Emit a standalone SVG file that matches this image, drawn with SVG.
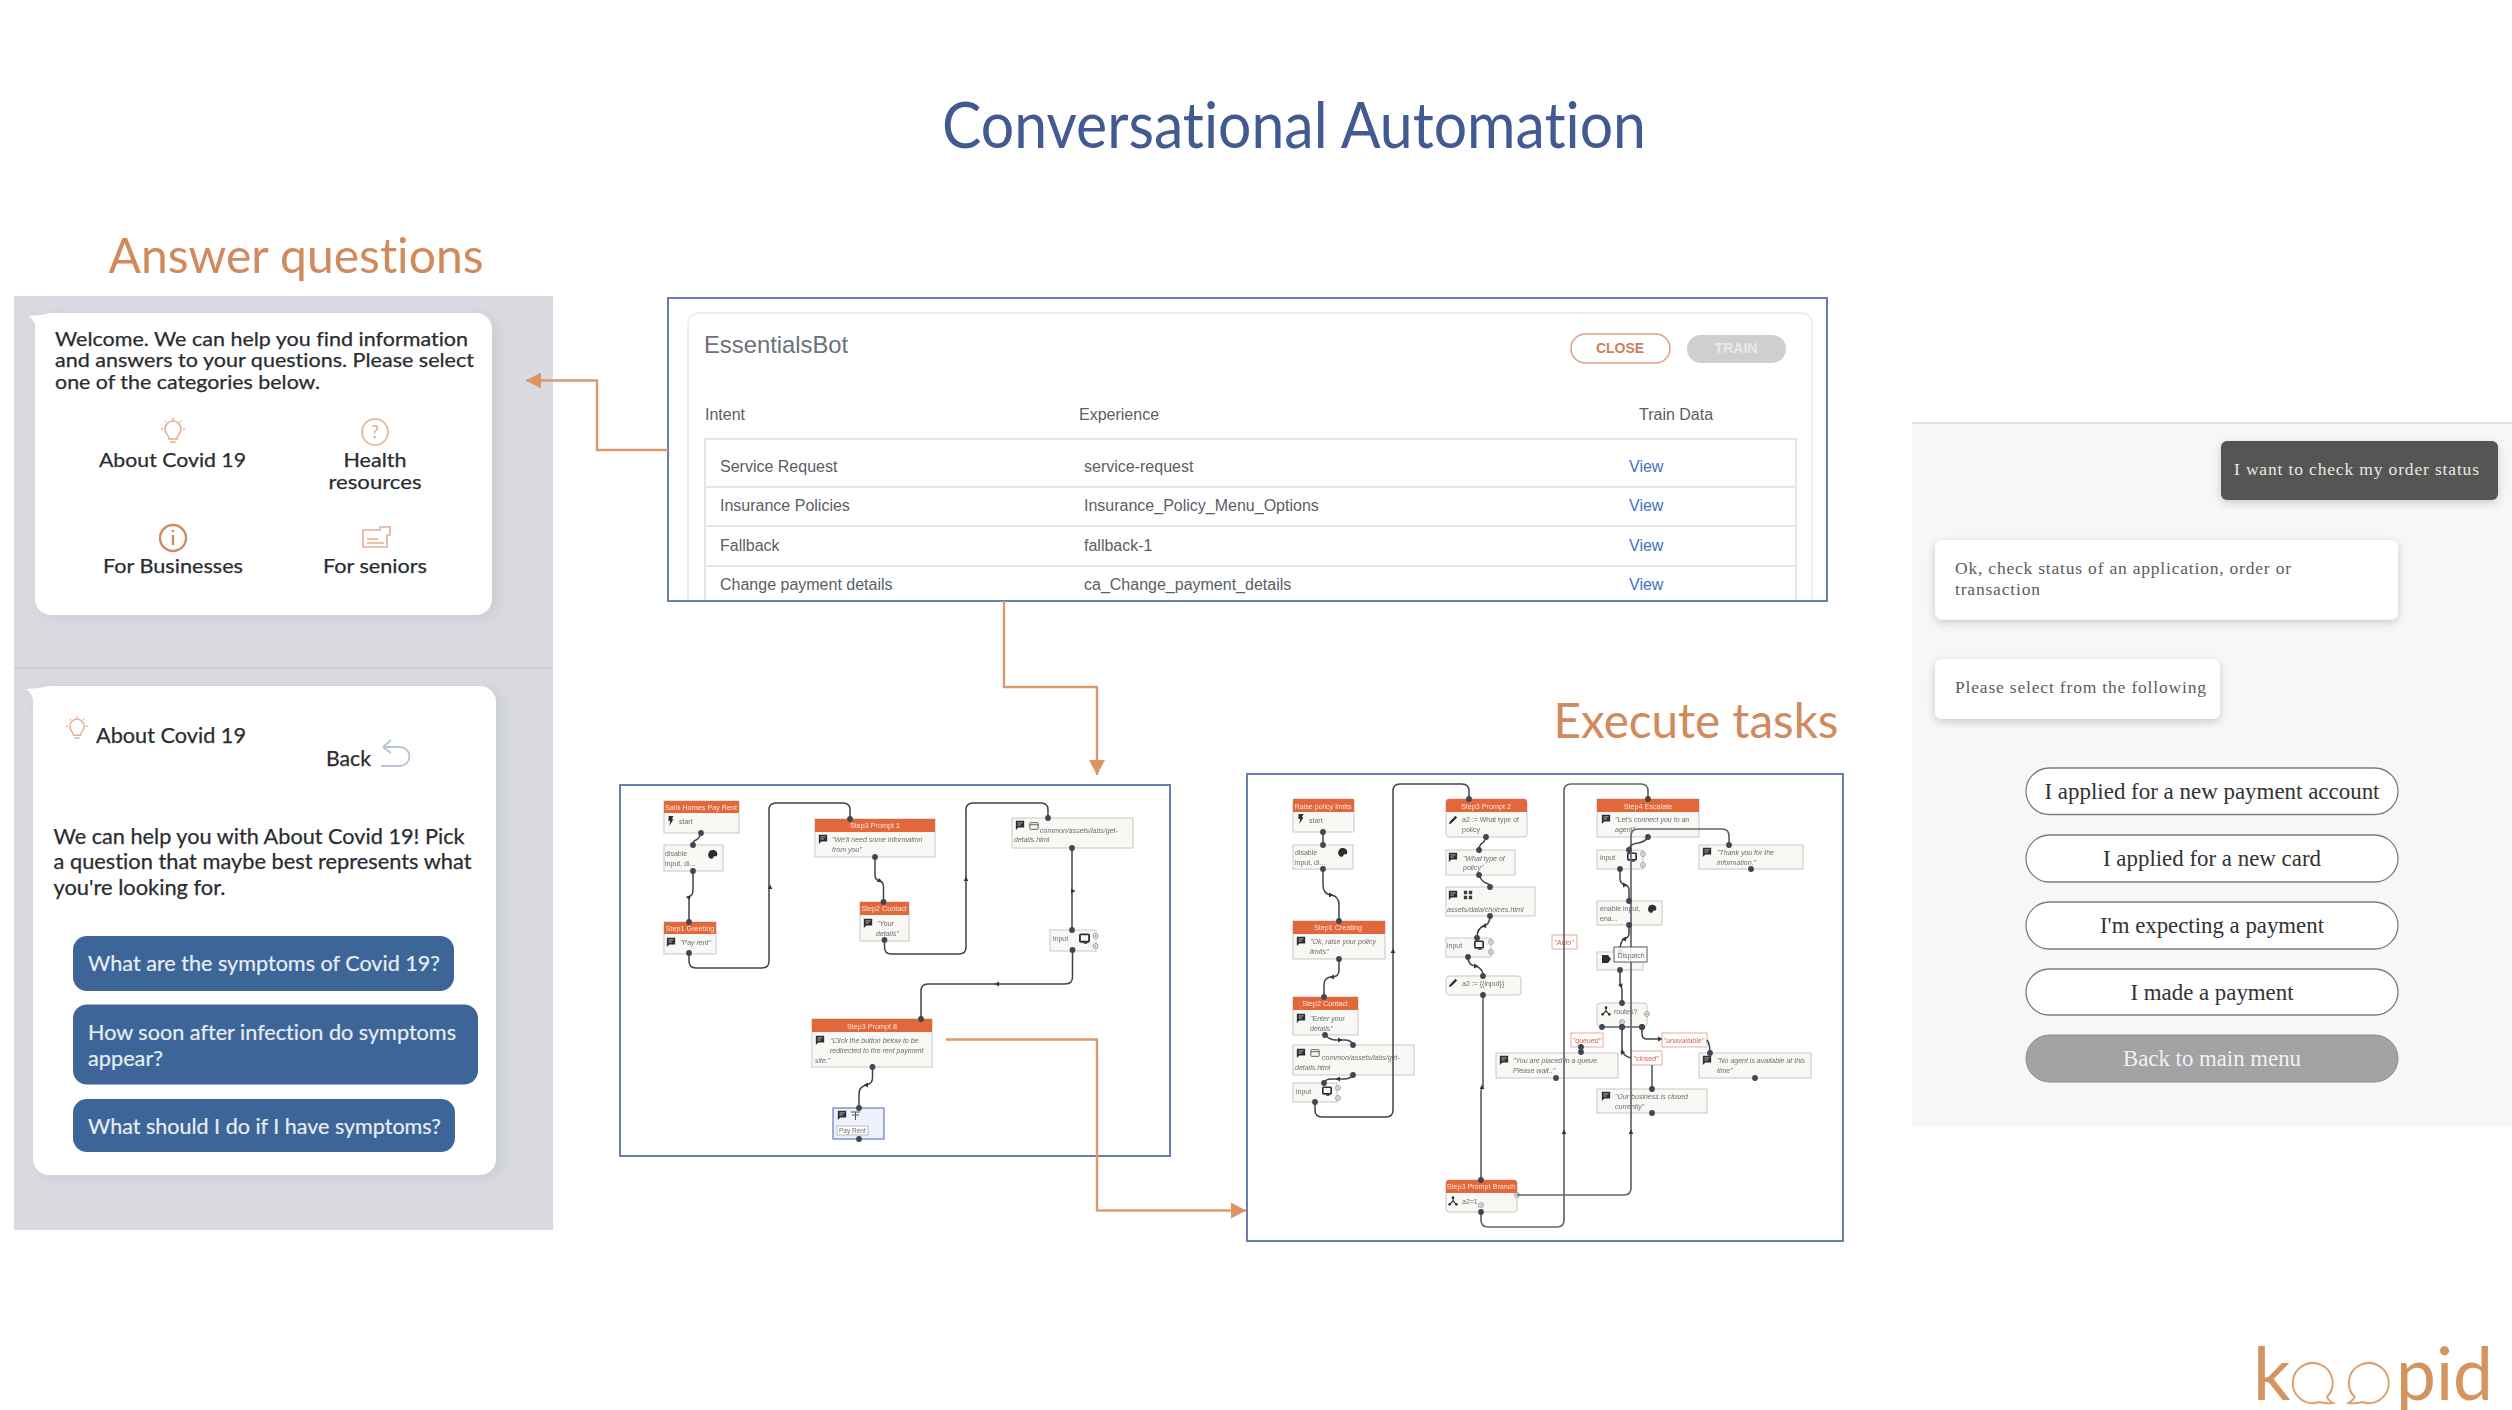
<svg xmlns="http://www.w3.org/2000/svg" width="2512" height="1410" viewBox="0 0 2512 1410">
<style>
text{font-family:"Liberation Sans",Arial,sans-serif}
.lato,.lato text{font-family:Lato,"Noto Sans",sans-serif;font-variant-ligatures:none}
.serif,.serif text{font-family:"Liberation Serif","Times New Roman",serif}
.head{fill:#2a2c30;font-size:20px;stroke:#2a2c30;stroke-width:.25}
.mid{text-anchor:middle}
.btn{fill:#3d6597}
.btnt{fill:#e6edf5;font-size:21px;stroke:#e6edf5;stroke-width:.2}
.card{fill:#fff}
.ico{fill:none;stroke:#e6ae8c;stroke-width:1.6}
.frame{fill:#fff;stroke:#6b7db0;stroke-width:2}
.tb{fill:#5b5e64;font-size:16px}
.rowl{stroke:#e3e6ec;stroke-width:2;fill:none}
.view{fill:#3f70c4;font-size:16px}
.nb{fill:#faf8f5;stroke:#c9c7c3;stroke-width:1}
.nh{fill:#e2673b}
.nht{fill:#fbe6dc;font-size:7.2px;text-anchor:middle}
.nt{fill:#6d6d6d;font-size:7px;font-style:italic}
.np{fill:#6d6d6d;font-size:7px}
.lab{fill:#fff;stroke:#e9a99b;stroke-width:1}
.labt{fill:#d9604a;font-size:7px;text-anchor:middle;font-style:italic}
.fc{fill:none;stroke:#3f444d;stroke-width:1.5;marker-start:url(#dot);marker-end:url(#dot)}
.fl{fill:none;stroke:#63676e;stroke-width:1.7;marker-start:url(#dot);marker-end:url(#dot)}
.dot{fill:#3f4653}
.ma{fill:#33373e}
.or{fill:none;stroke:#dc9a6e;stroke-width:2.4}
.bub{fill:#fff}
.pill{fill:#fff;stroke:#7d7d80;stroke-width:1.3}
.pillt{fill:#333;font-size:22.5px;text-anchor:middle}
.bt{fill:#5c5c5e;font-size:17.5px}
.kd{fill:#d3945f;font-family:Lato,sans-serif;font-size:74px}
.ttl{font-family:Lato,"Noto Sans",sans-serif;font-variant-ligatures:none}
</style>
<defs>
<filter id="soft" x="-2%" y="-2%" width="104%" height="104%"><feGaussianBlur stdDeviation="0.55"/></filter>
<filter id="soft2" x="-2%" y="-5%" width="104%" height="110%"><feGaussianBlur stdDeviation="0.35"/></filter>
<filter id="shadow" x="-10%" y="-10%" width="120%" height="125%"><feDropShadow dx="0" dy="3" stdDeviation="4" flood-color="#000" flood-opacity=".18"/></filter>
<filter id="shadowL" x="-10%" y="-10%" width="125%" height="120%"><feDropShadow dx="6" dy="3" stdDeviation="8" flood-color="#8a90a0" flood-opacity=".22"/></filter>
<marker id="arrO" markerUnits="userSpaceOnUse" markerWidth="16" markerHeight="16" refX="15" refY="8" orient="auto"><path d="M0 0L15 8L0 16z" fill="#dc9460"/></marker>
<marker id="dot" markerUnits="userSpaceOnUse" markerWidth="8" markerHeight="8" refX="4" refY="4"><circle cx="4" cy="4" r="2.9" fill="#3f4653"/></marker>
<symbol id="chat" viewBox="-6 -6 12 12" overflow="visible"><path d="M-5-5H5V3H-2L-5 6z" fill="#2e2f33"/><path d="M-3-2.500H3M-3 0H1" stroke="#ddd" stroke-width=".9" fill="none"/></symbol>
<symbol id="win" viewBox="-6 -6 12 12" overflow="visible"><rect x="-5" y="-4" width="10" height="8" rx="1" fill="none" stroke="#444" stroke-width="1"/><path d="M-5-1.500H5" stroke="#444" stroke-width="1"/></symbol>
<symbol id="pal" viewBox="-6 -6 12 12" overflow="visible"><path d="M0-5C4-5 6-2 5 1C4 3 2 1 1 3C0 5-1 5-3 4C-6 2-5-5 0-5z" fill="#2e2f33"/></symbol>
<symbol id="bolt" viewBox="-6 -6 12 12" overflow="visible"><path d="M-3-6H3L1-2H3L-2 6L-1 0H-3z" fill="#2e2f33"/></symbol>
<symbol id="pen" viewBox="-6 -6 12 12" overflow="visible"><path d="M-5 5L-4 2L3-5L5-3L-2 4z" fill="#2e2f33"/></symbol>
<symbol id="mon" viewBox="-6 -6 12 12" overflow="visible"><rect x="-5" y="-4.500" width="10" height="8" rx="1" fill="none" stroke="#2e2f33" stroke-width="2"/><path d="M-1 5H3" stroke="#2e2f33" stroke-width="1.400"/></symbol>
<symbol id="grd" viewBox="-6 -6 12 12" overflow="visible"><path d="M-5-5H-1V-1H-5zM1-5H5V-1H1zM-5 1H-1V5H-5zM1 1H5V5H1z" fill="#3a3b3f"/></symbol>
<symbol id="brn" viewBox="-6 -6 12 12" overflow="visible"><path d="M0-4V0L-4 4M0 0L4 4" stroke="#2e2f33" stroke-width="1.300" fill="none"/><circle cx="0" cy="-4" r="1.600" fill="#2e2f33"/><circle cx="-4" cy="4" r="1.600" fill="#2e2f33"/><circle cx="4" cy="4" r="1.600" fill="#2e2f33"/></symbol>
<symbol id="cir" viewBox="-6 -6 12 12" overflow="visible"><circle r="3.200" fill="#fff" stroke="#5d6066" stroke-width=".9"/><circle r="1" fill="#5d6066"/></symbol>
<path id="ma" d="M2.500 0L-2 -2.400V2.400z"/>
<path id="bulb" d="M-4 7C-4 3-8 2-8-3A8 8 0 0 1 8-3C8 2 4 3 4 7zM-3 10H3M-12-3H-10M10-3H12M-8-11L-7-10M8-11L7-10M0-14V-12"/>
</defs>
<rect width="2512" height="1410" fill="#fff"/>

<g id="title"><text class="ttl" x="1294" y="148" text-anchor="middle" font-size="64" fill="#425a92" textLength="704" lengthAdjust="spacingAndGlyphs">Conversational Automation</text></g>
<text class="ttl" id="answer-title" x="296" y="273" text-anchor="middle" font-size="48" fill="#d08a5c" textLength="375" lengthAdjust="spacingAndGlyphs">Answer questions</text>
<text class="ttl" id="execute-title" x="1696" y="738" text-anchor="middle" font-size="48" fill="#d08a5c" textLength="285" lengthAdjust="spacingAndGlyphs">Execute tasks</text>

<g id="answer-panel" class="lato">
<rect x="14" y="296" width="539" height="934" fill="#dadbe1"/>
<path d="M14 668H553" stroke="#c9cad0" stroke-width="1.500"/>
<g id="card-welcome">
<path class="card" filter="url(#shadowL)" d="M51 313H476a16 16 0 0 1 16 16V599a16 16 0 0 1-16 16H51a16 16 0 0 1-16-16V325Q33 318 28 316Q40 316 51 313z"/>
<text class="head" x="55" y="346" textLength="413" lengthAdjust="spacingAndGlyphs">Welcome. We can help you find information</text>
<text class="head" x="55" y="367" textLength="419" lengthAdjust="spacingAndGlyphs">and answers to your questions. Please select</text>
<text class="head" x="55" y="389" textLength="265" lengthAdjust="spacingAndGlyphs">one of the categories below.</text>
<use href="#bulb" transform="translate(173,432)" class="ico"/>
<circle class="ico" cx="375" cy="432" r="13"/>
<text x="375" y="438" text-anchor="middle" font-size="17" fill="#e0a884">?</text>
<circle cx="173" cy="538" r="13" fill="none" stroke="#d28b60" stroke-width="2.400"/>
<path d="M173 535V545M173 530V532" stroke="#d28b60" stroke-width="2.400"/>
<path class="ico" d="M363 530H380V527H390V535H387V547H363zM367 539H378M367 543H384"/>
<text class="head mid" x="172.500" y="467" textLength="147" lengthAdjust="spacingAndGlyphs">About Covid 19</text>
<text class="head mid" x="375" y="467" textLength="63" lengthAdjust="spacingAndGlyphs">Health</text>
<text class="head mid" x="375" y="488.500" textLength="93" lengthAdjust="spacingAndGlyphs">resources</text>
<text class="head mid" x="173" y="573" textLength="140" lengthAdjust="spacingAndGlyphs">For Businesses</text>
<text class="head mid" x="375" y="573" textLength="104" lengthAdjust="spacingAndGlyphs">For seniors</text>
</g>
<g id="card-covid">
<path class="card" filter="url(#shadowL)" d="M49 686H480a16 16 0 0 1 16 16V1159a16 16 0 0 1-16 16H49a16 16 0 0 1-16-16V699Q31 692 26 689Q38 689 49 686z"/>
<use href="#bulb" transform="translate(77,729) scale(.9)" class="ico"/>
<text class="head" x="96" y="743" style="font-size:21px" textLength="150" lengthAdjust="spacingAndGlyphs">About Covid 19</text>
<text class="head" x="326" y="766" style="font-size:21px" textLength="45" lengthAdjust="spacingAndGlyphs">Back</text>
<path d="M383 747H400A9.500 9.500 0 0 1 400 766H381M383 747L391 740M383 747L391 753" fill="none" stroke="#b7c3d6" stroke-width="1.800"/>
<text class="head" x="53.500" y="843.500" style="font-size:21.5px" textLength="411" lengthAdjust="spacingAndGlyphs">We can help you with About Covid 19! Pick</text>
<text class="head" x="53.500" y="869" style="font-size:21.5px" textLength="418" lengthAdjust="spacingAndGlyphs">a question that maybe best represents what</text>
<text class="head" x="53.500" y="895" style="font-size:21.5px" textLength="172" lengthAdjust="spacingAndGlyphs">you're looking for.</text>
<g id="btn-symptoms"><rect class="btn" x="73" y="936" width="381" height="55" rx="14"/><text class="btnt" x="88" y="971" textLength="352" lengthAdjust="spacingAndGlyphs">What are the symptoms of Covid 19?</text></g>
<g id="btn-soon"><rect class="btn" x="73" y="1004.500" width="405" height="80" rx="14"/><text class="btnt" x="88" y="1040" textLength="368" lengthAdjust="spacingAndGlyphs">How soon after infection do symptoms</text><text class="btnt" x="88" y="1065.500" textLength="75" lengthAdjust="spacingAndGlyphs">appear?</text></g>
<g id="btn-should"><rect class="btn" x="73" y="1099" width="382" height="53" rx="14"/><text class="btnt" x="88" y="1134" textLength="353" lengthAdjust="spacingAndGlyphs">What should I do if I have symptoms?</text></g>
</g>
</g>

<g id="essentials-bot">
<rect class="frame" x="668" y="298" width="1159" height="303"/>
<path d="M688 600V325Q688 313 700 313H1800Q1812 313 1812 325V600" fill="none" stroke="#eceef2" stroke-width="2"/>
<text x="704" y="353" font-size="23.8" fill="#6c7078">EssentialsBot</text>
<g id="btn-close"><rect x="1571" y="334" width="99" height="29" rx="14.500" fill="#fff" stroke="#dba184" stroke-width="1.500"/><text x="1620" y="353" text-anchor="middle" font-size="14" font-weight="700" fill="#c9825e">CLOSE</text></g>
<g id="btn-train"><rect x="1687" y="335" width="99" height="28" rx="14" fill="#cfcfd1"/><text x="1736" y="353" text-anchor="middle" font-size="14" font-weight="700" fill="#e9e9eb">TRAIN</text></g>
<text class="tb" x="705" y="420">Intent</text><text class="tb" x="1079" y="420">Experience</text><text class="tb" x="1639" y="420">Train Data</text>
<path class="rowl" d="M705 600V439H1796V600M705 487H1796M705 526H1796M705 566H1796"/>
<g id="row-service"><text class="tb" x="720" y="472">Service Request</text><text class="tb" x="1084" y="472">service-request</text><text class="view" x="1629" y="472">View</text></g>
<g id="row-insurance"><text class="tb" x="720" y="511">Insurance Policies</text><text class="tb" x="1084" y="511">Insurance_Policy_Menu_Options</text><text class="view" x="1629" y="511">View</text></g>
<g id="row-fallback"><text class="tb" x="720" y="551">Fallback</text><text class="tb" x="1084" y="551">fallback-1</text><text class="view" x="1629" y="551">View</text></g>
<g id="row-change"><text class="tb" x="720" y="590">Change payment details</text><text class="tb" x="1084" y="590">ca_Change_payment_details</text><text class="view" x="1629" y="590">View</text></g>
</g>

<g id="flow1">
<rect class="frame" x="620" y="785" width="550" height="371"/>
<g filter="url(#soft)">
<g id="f1-start"><rect class="nb" x="664" y="801" width="75" height="32"/><rect class="nh" x="664" y="801" width="75" height="12"/><text class="nht" x="701" y="810">Salix Homes Pay Rent</text><use href="#bolt" x="666" y="816" width="10" height="10"/><text class="np" x="679" y="824">start</text></g>
<g id="f1-disable"><rect class="nb" x="664" y="845" width="59" height="26"/><text class="np" x="665" y="856">disable</text><text class="np" x="665" y="866">input, di...</text><use href="#pal" x="707" y="849" width="11" height="11"/></g>
<g id="f1-greeting"><rect class="nb" x="664" y="922" width="52" height="32"/><rect class="nh" x="664" y="922" width="52" height="12"/><text class="nht" x="690" y="931">Step1 Greeting</text><use href="#chat" x="666" y="937" width="10" height="10"/><text class="nt" x="680" y="945">"Pay rent"</text></g>
<g id="f1-prompt1"><rect class="nb" x="815" y="819" width="120" height="38"/><rect class="nh" x="815" y="819" width="120" height="13"/><text class="nht" x="875" y="828">Step3 Prompt 1</text><use href="#chat" x="818" y="834" width="10" height="10"/><text class="nt" x="832" y="842">"We'll need some information</text><text class="nt" x="832" y="852">from you"</text></g>
<g id="f1-contact"><rect class="nb" x="860" y="902" width="49" height="39"/><rect class="nh" x="860" y="902" width="49" height="13"/><text class="nht" x="884" y="911">Step2 Contact</text><use href="#chat" x="863" y="918" width="10" height="10"/><text class="nt" x="877" y="926">"Your</text><text class="nt" x="876" y="936">details"</text></g>
<g id="f1-details"><rect class="nb" x="1012" y="818" width="121" height="30"/><use href="#chat" x="1015" y="820" width="10" height="10"/><use href="#win" x="1029" y="821" width="10" height="10"/><text class="nt" x="1040" y="833">common/assets/labs/get-</text><text class="nt" x="1014" y="842">details.html</text></g>
<g id="f1-input"><rect class="nb" x="1050" y="930" width="46" height="21"/><text class="np" x="1053" y="941">input</text><use href="#mon" x="1079" y="933" width="11" height="11"/><use href="#cir" x="1091" y="931.500" width="9" height="9"/><use href="#cir" x="1091" y="941.500" width="9" height="9"/></g>
<g id="f1-prompt8"><rect class="nb" x="812" y="1019" width="120" height="48"/><rect class="nh" x="812" y="1019" width="120" height="13"/><text class="nht" x="872" y="1029">Step3 Prompt 8</text><use href="#chat" x="815" y="1035" width="10" height="10"/><text class="nt" x="830" y="1043">"Click the button below to be</text><text class="nt" x="830" y="1053">redirected to the rent payment</text><text class="nt" x="815" y="1063">site."</text></g>
<g id="f1-payrent"><rect x="833" y="1108" width="51" height="31" fill="#eef1fb" stroke="#6a78c8" stroke-width="1.200"/><use href="#chat" x="837" y="1110" width="10" height="10"/><path d="M851 1112H860M855.500 1112V1120M852 1115H859" stroke="#555" fill="none"/><rect x="837" y="1126" width="31" height="9" fill="#fff" stroke="#aaa" stroke-width=".8"/><text class="np" x="839" y="1133" style="font-size:6.5px">Pay Rent</text></g>
</g>
</g>

<g id="flow2">
<rect class="frame" x="1247" y="774" width="596" height="467"/>
<g filter="url(#soft)">
<g id="f2-start"><rect class="nb" x="1293" y="799" width="61" height="33" rx="1"/><rect class="nh" x="1293" y="799" width="61" height="13"/><text class="nht" x="1323" y="809">Raise policy limits</text><use href="#bolt" x="1296" y="814" width="10" height="10"/><text class="np" x="1309" y="823">start</text></g>
<g id="f2-disable"><rect class="nb" x="1293" y="845" width="60" height="24"/><text class="np" x="1295" y="855">disable</text><text class="np" x="1295" y="865">input, di...</text><use href="#pal" x="1337" y="847" width="11" height="11"/></g>
<g id="f2-creating"><rect class="nb" x="1293" y="921" width="92" height="38"/><rect class="nh" x="1293" y="921" width="92" height="13"/><text class="nht" x="1338" y="930">Step1 Creating</text><use href="#chat" x="1296" y="936" width="10" height="10"/><text class="nt" x="1310" y="944">"Ok, raise your policy</text><text class="nt" x="1310" y="954">limits"</text></g>
<g id="f2-contact"><rect class="nb" x="1293" y="997" width="65" height="38"/><rect class="nh" x="1293" y="997" width="65" height="13"/><text class="nht" x="1325" y="1006">Step2 Contact</text><use href="#chat" x="1296" y="1013" width="10" height="10"/><text class="nt" x="1310" y="1021">"Enter your</text><text class="nt" x="1310" y="1031">details"</text></g>
<g id="f2-details"><rect class="nb" x="1293" y="1045" width="121" height="30"/><use href="#chat" x="1296" y="1048" width="10" height="10"/><use href="#win" x="1310" y="1048" width="10" height="10"/><text class="nt" x="1322" y="1060">common/assets/labs/get-</text><text class="nt" x="1295" y="1070">details.html</text></g>
<g id="f2-input"><rect class="nb" x="1293" y="1083" width="44" height="19"/><text class="np" x="1296" y="1094">input</text><use href="#mon" x="1322" y="1086" width="10" height="10"/><use href="#cir" x="1333.500" y="1083.500" width="9" height="9"/><use href="#cir" x="1333.500" y="1093.500" width="9" height="9"/></g>
<g id="f2-prompt2"><rect class="nb" x="1446" y="799" width="81" height="38" rx="3"/><path class="nh" d="M1446 812V802Q1446 799 1449 799H1524Q1527 799 1527 802V812z"/><text class="nht" x="1486" y="809">Step3 Prompt 2</text><use href="#pen" x="1448" y="815" width="10" height="10"/><text class="np" x="1462" y="822">a2 := What type of</text><text class="np" x="1462" y="832">policy</text></g>
<g id="f2-whattype"><rect class="nb" x="1446" y="850" width="69" height="25"/><use href="#chat" x="1448" y="852" width="10" height="10"/><text class="nt" x="1463" y="861">"What type of</text><text class="nt" x="1463" y="870">policy"</text></g>
<g id="f2-choices"><rect class="nb" x="1446" y="887" width="89" height="29"/><use href="#chat" x="1448" y="890" width="10" height="10"/><use href="#grd" x="1463" y="890" width="10" height="10"/><text class="nt" x="1447" y="912">assets/data/choices.html</text></g>
<g id="f2-input2"><rect class="nb" x="1446" y="938" width="45" height="19"/><text class="np" x="1447" y="948">input</text><use href="#mon" x="1474" y="940" width="10" height="10"/><use href="#cir" x="1486.500" y="937.500" width="9" height="9"/><use href="#cir" x="1486.500" y="947.500" width="9" height="9"/></g>
<g id="f2-assign"><rect class="nb" x="1446" y="976" width="75" height="19" rx="3"/><use href="#pen" x="1448" y="978" width="10" height="10"/><text class="np" x="1462" y="986">a2 := {{input}}</text></g>
<g id="f2-branch"><rect class="nb" x="1446" y="1180" width="71" height="32" rx="3"/><path class="nh" d="M1446 1193V1183Q1446 1180 1449 1180H1514Q1517 1180 1517 1183V1193z"/><text class="nht" x="1481" y="1189">Step3 Prompt Branch</text><use href="#brn" x="1448" y="1196" width="10" height="10"/><text class="np" x="1462" y="1204">a2=1</text><use href="#cir" x="1476.500" y="1200.500" width="9" height="9"/><use href="#cir" x="1512.500" y="1190.500" width="9" height="9"/></g>
<g id="f2-queue"><rect class="nb" x="1496" y="1053" width="122" height="25"/><use href="#chat" x="1499" y="1055" width="10" height="10"/><text class="nt" x="1513" y="1063">"You are placed in a queue.</text><text class="nt" x="1513" y="1073">Please wait.."</text></g>
<g id="f2-auto"><rect class="lab" x="1552" y="935" width="25" height="14"/><text class="labt" x="1564" y="945">"Auto"</text></g>
<g id="f2-escalate"><rect class="nb" x="1597" y="799" width="102" height="38"/><rect class="nh" x="1597" y="799" width="102" height="13"/><text class="nht" x="1648" y="809">Step4 Escalate</text><use href="#chat" x="1601" y="814" width="10" height="10"/><text class="nt" x="1615" y="822">"Let's connect you to an</text><text class="nt" x="1615" y="832">agent"</text></g>
<g id="f2-thanks"><rect class="nb" x="1699" y="845" width="104" height="24"/><use href="#chat" x="1702" y="847" width="10" height="10"/><text class="nt" x="1717" y="855">"Thank you for the</text><text class="nt" x="1717" y="865">information."</text></g>
<g id="f2-input3"><rect class="nb" x="1597" y="850" width="46" height="19"/><text class="np" x="1600" y="860">input</text><use href="#mon" x="1627" y="852" width="10" height="10"/><use href="#cir" x="1638.500" y="849.500" width="9" height="9"/><use href="#cir" x="1638.500" y="860.500" width="9" height="9"/></g>
<g id="f2-enable"><rect class="nb" x="1597" y="901" width="65" height="24"/><text class="np" x="1600" y="911">enable input,</text><text class="np" x="1600" y="921">ena...</text><use href="#pal" x="1647" y="904" width="10" height="10"/></g>
<g id="f2-dispatch"><rect class="nb" x="1597" y="952" width="46" height="18"/><path d="M1602 955H1608L1611 959L1608 963H1602z" fill="#2e2f33"/></g>
<g id="f2-routes"><rect class="nb" x="1597" y="1003" width="50" height="24" rx="3"/><use href="#brn" x="1601" y="1006" width="10" height="10"/><text class="np" x="1614" y="1014">routes?</text><use href="#cir" x="1617.500" y="1017.500" width="9" height="9"/><use href="#cir" x="1642.500" y="1009.500" width="9" height="9"/></g>
<g id="f2-queued"><rect class="lab" x="1571" y="1033" width="32" height="14"/><text class="labt" x="1587" y="1043">"queued"</text></g>
<g id="f2-closed"><rect class="lab" x="1631" y="1051" width="31" height="14"/><text class="labt" x="1646" y="1061">"closed"</text></g>
<g id="f2-unavailable"><rect class="lab" x="1662" y="1033" width="45" height="14"/><text class="labt" x="1684" y="1043">"unavailable"</text></g>
<g id="f2-noagent"><rect class="nb" x="1699" y="1053" width="112" height="25"/><use href="#chat" x="1702" y="1055" width="10" height="10"/><text class="nt" x="1717" y="1063">"No agent is available at this</text><text class="nt" x="1717" y="1073">time"</text></g>
<g id="f2-business"><rect class="nb" x="1597" y="1089" width="110" height="24"/><use href="#chat" x="1601" y="1091" width="10" height="10"/><text class="nt" x="1615" y="1099">"Our business is closed</text><text class="nt" x="1615" y="1109">currently"</text></g>
</g>
</g>

<g id="connectors">
<g id="flow1-lines" filter="url(#soft2)">
<path class="fc" d="M701 833Q699 839 696 840Q693 841 693 845"/>
<path class="fc" d="M693 871V890Q693 895 690 896Q689 897 689 902V922"/>
<path class="fc" d="M689 953V961Q689 968 696 968H762Q769 968 769 961V810Q769 803 776 803H843Q850 803 850 810V819"/>
<path class="fc" d="M875 857V875Q875 880 880 881Q883.500 882 883.500 887V902"/>
<path class="fc" d="M884.500 940V947Q884.500 954 891 954H959Q966 954 966 947V810Q966 803 973 803H1041Q1048 803 1048 810V818"/>
<path class="fc" d="M1072 848V930"/>
<path class="fc" d="M1072.500 950V977Q1072.500 984 1065 984H928Q921 984 921 991V1019"/>
<path class="fc" d="M872.500 1067V1078Q872.500 1084 866 1085Q859 1087 859 1094V1108"/>
<circle class="dot" cx="859" cy="1139" r="2.900"/>
<use href="#ma" class="ma" transform="translate(770,887) rotate(-90)"/>
<use href="#ma" class="ma" transform="translate(966,879) rotate(-90)"/>
<use href="#ma" class="ma" transform="translate(1073,891)"/>
<use href="#ma" class="ma" transform="translate(997,984) rotate(180)"/>
<use href="#ma" class="ma" transform="translate(689,897) rotate(-45)"/>
<use href="#ma" class="ma" transform="translate(880,881) rotate(30)"/>
<use href="#ma" class="ma" transform="translate(866,1085) rotate(180)"/>
</g>
<g id="flow2-lines" filter="url(#soft2)">
<path class="fc" d="M1323 832V845"/>
<path class="fc" d="M1323 869V885Q1323 894 1331 895Q1339 896 1339 905V921"/>
<path class="fc" d="M1339 959V970Q1339 977 1332 977Q1324 977 1324 985V997"/>
<path class="fc" d="M1325 1035Q1330 1040 1336 1040H1345Q1351 1040 1353 1045"/>
<path class="fc" d="M1353 1075Q1350 1079 1344 1079H1332Q1325 1079 1324 1083"/>
<path class="fc" d="M1315 1102V1110Q1315 1117 1322 1117H1386Q1393 1117 1393 1110V791Q1393 784 1400 784H1462Q1469 784 1469 791V799"/>
<path class="fc" d="M1486 837Q1484 843 1481 844Q1479 846 1479 850"/>
<path class="fc" d="M1479 875Q1482 882 1486 883Q1490 884 1490 887"/>
<path class="fc" d="M1490 916Q1490 924 1484 926Q1477 928 1477 938"/>
<path class="fc" d="M1468 957Q1468 965 1475 966Q1483 968 1483 976"/>
<path class="fl" d="M1483 995V1087Q1481 1089 1481 1092V1180"/>
<path class="fl" d="M1517 1195H1624Q1631 1195 1631 1188V836Q1631 829 1638 829H1722Q1729 829 1729 836V845" style="marker-start:none"/>
<path class="fl" d="M1481 1212V1220Q1481 1227 1488 1227H1557Q1564 1227 1564 1220V791Q1564 784 1571 784H1641Q1648 784 1648 791V799"/>
<path class="fc" d="M1648 837Q1645 842 1638 843Q1629 844 1629 850"/>
<path class="fc" d="M1620 869V878Q1620 884 1625 885Q1629 886 1629 890V901"/>
<path class="fc" d="M1629 925V933Q1629 938 1624 939Q1620 941 1620 952"/>
<path class="fc" d="M1620 970V985Q1622 987 1622 990V1003"/>
<path class="fl" d="M1602 1027H1642"/>
<circle class="dot" cx="1622" cy="1027" r="2.900"/>
<path class="fc" d="M1581 1047V1052"/>
<path class="fc" d="M1622 1027V1048Q1622 1056 1631 1058" style="marker-end:none"/>
<path class="fl" d="M1652 1065V1089" style="marker-start:none"/>
<path class="fc" d="M1642 1027V1034Q1642 1039 1647 1039H1660" style="marker-end:none"/>
<path class="fc" d="M1707 1040Q1710 1044 1710 1053" style="marker-start:none"/>
<circle class="dot" cx="1751" cy="869" r="2.900"/>
<circle class="dot" cx="1556" cy="1078" r="2.900"/>
<circle class="dot" cx="1755" cy="1078" r="2.900"/>
<circle class="dot" cx="1652" cy="1113" r="2.900"/>
<use href="#ma" class="ma" transform="translate(1331,895)"/>
<use href="#ma" class="ma" transform="translate(1332,977) rotate(180)"/>
<use href="#ma" class="ma" transform="translate(1340,1040)"/>
<use href="#ma" class="ma" transform="translate(1338,1079) rotate(180)"/>
<use href="#ma" class="ma" transform="translate(1393,951) rotate(-90)"/>
<use href="#ma" class="ma" transform="translate(1482,1087) rotate(-90)"/>
<use href="#ma" class="ma" transform="translate(1564,1132) rotate(-90)"/>
<use href="#ma" class="ma" transform="translate(1631,1132) rotate(-90)"/>
<use href="#ma" class="ma" transform="translate(1484,926) rotate(170)"/>
<use href="#ma" class="ma" transform="translate(1476,966)"/>
<use href="#ma" class="ma" transform="translate(1625,885)"/>
<use href="#ma" class="ma" transform="translate(1624,939) rotate(180)"/>
<use href="#ma" class="ma" transform="translate(1621,986) rotate(70)"/>
<use href="#ma" class="ma" transform="translate(1622,1052) rotate(-120)"/>
<use href="#ma" class="ma" transform="translate(1660,1039)"/>
</g>
<path id="c-bot-answer" class="or" marker-end="url(#arrO)" d="M668 450H597V380.500H526"/>
<path id="c-bot-flow1" class="or" marker-end="url(#arrO)" d="M1004 601V687H1097V775"/>
<path id="c-flow1-flow2" class="or" marker-end="url(#arrO)" d="M946 1039.500H1097V1210.500H1246"/>
</g>

<g id="f2-dispatch-tip" filter="url(#soft)"><rect x="1614" y="947" width="33" height="15" fill="#fff" fill-opacity=".85" stroke="#55585e" stroke-width="1"/><text class="np" x="1631" y="958" text-anchor="middle">Dispatch</text></g>

<g id="chat-panel" class="serif">
<rect x="1912" y="423" width="600" height="703" fill="#f7f7f9"/>
<path d="M1912 423H2512" stroke="#dedfe0" stroke-width="2"/>
<g id="msg-user"><rect x="2221" y="441" width="277" height="59" rx="6" fill="#545452" filter="url(#shadow)"/><text x="2234" y="475" font-size="17.5" fill="#e9e9e7" textLength="245">I want to check my order status</text></g>
<g id="msg-ok"><rect class="bub" x="1935" y="540" width="463" height="79.500" rx="7" filter="url(#shadow)"/><text class="bt" x="1955" y="574" textLength="336">Ok, check status of an application, order or</text><text class="bt" x="1955" y="595" textLength="85">transaction</text></g>
<g id="msg-select"><rect class="bub" x="1935" y="659" width="285" height="60" rx="7" filter="url(#shadow)"/><text class="bt" x="1955" y="693" textLength="251">Please select from the following</text></g>
<g id="opt-account"><rect class="pill" x="2026" y="768" width="372" height="46.500" rx="23.250"/><text class="pillt" x="2212" y="799" textLength="335" lengthAdjust="spacingAndGlyphs">I applied for a new payment account</text></g>
<g id="opt-card"><rect class="pill" x="2026" y="835" width="372" height="47" rx="23.500"/><text class="pillt" x="2212" y="866" textLength="218" lengthAdjust="spacingAndGlyphs">I applied for a new card</text></g>
<g id="opt-expect"><rect class="pill" x="2026" y="902" width="372" height="47" rx="23.500"/><text class="pillt" x="2212" y="933" textLength="224" lengthAdjust="spacingAndGlyphs">I'm expecting a payment</text></g>
<g id="opt-made"><rect class="pill" x="2026" y="969" width="372" height="46" rx="23"/><text class="pillt" x="2212" y="1000" textLength="163" lengthAdjust="spacingAndGlyphs">I made a payment</text></g>
<g id="opt-back"><rect x="2026" y="1035" width="372" height="47" rx="23.500" fill="#a3a3a6" stroke="#8b8b8e" stroke-width="1"/><text class="pillt" x="2212" y="1066" style="fill:#f1f1f2" textLength="178" lengthAdjust="spacingAndGlyphs">Back to main menu</text></g>
</g>

<g id="logo">
<text class="kd" x="2253" y="1400">k</text>
<path d="M2327 1397A20 20 0 1 0 2319 1402Q2326 1404 2333 1403Q2328 1400 2327 1397z" fill="none" stroke="#d9a273" stroke-width="2"/>
<path d="M2354.500 1397A20 20 0 1 1 2362.500 1402Q2355.500 1404 2348.500 1403Q2353.500 1400 2354.500 1397z" fill="none" stroke="#d9a273" stroke-width="2"/>
<text class="kd" x="2396" y="1400" textLength="97" lengthAdjust="spacingAndGlyphs">pid</text>
</g>
</svg>
